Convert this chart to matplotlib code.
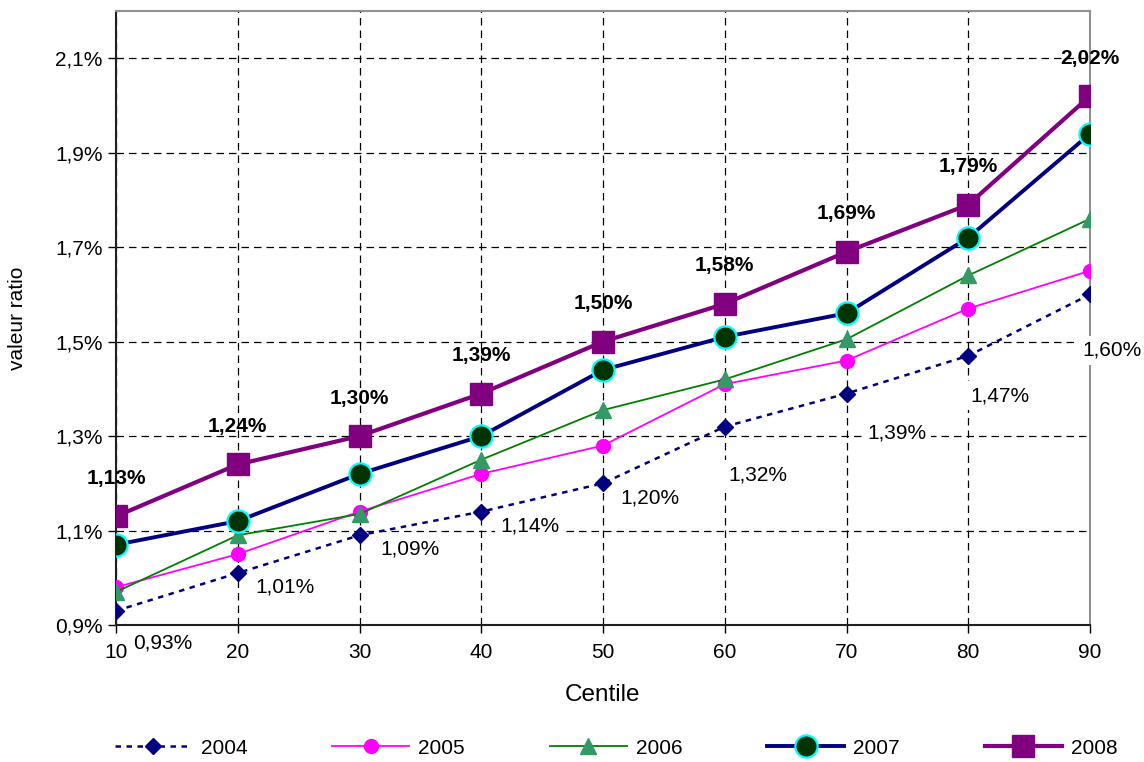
import matplotlib
matplotlib.use("Agg")
import matplotlib.pyplot as plt
from matplotlib.ticker import FuncFormatter

plt.rcParams['font.family'] = ['Liberation Sans', 'DejaVu Sans']

centiles = [10, 20, 30, 40, 50, 60, 70, 80, 90]
v2004 = [0.93, 1.01, 1.09, 1.14, 1.20, 1.32, 1.39, 1.47, 1.60]
v2005 = [0.98, 1.05, 1.14, 1.22, 1.28, 1.41, 1.46, 1.57, 1.65]
v2006 = [0.97, 1.09, 1.135, 1.25, 1.355, 1.42, 1.505, 1.64, 1.76]
v2007 = [1.07, 1.12, 1.22, 1.30, 1.44, 1.51, 1.56, 1.72, 1.94]
v2008 = [1.13, 1.24, 1.30, 1.39, 1.50, 1.58, 1.69, 1.79, 2.02]
years = ['2004', '2005', '2006', '2007', '2008']
yticks = [0.9, 1.1, 1.3, 1.5, 1.7, 1.9, 2.1]

def pct(v):
    return f"{v:.2f}%".replace('.', ',')

fig = plt.figure(figsize=(11.44, 7.62), dpi=100)
ax = fig.add_axes([116/1144, 1-625/762, (1090-116)/1144, (625-11)/762])

FS = 15
navy = '#000080'
ax.plot(centiles, v2004, color=navy, lw=1.8, ls=(0, (2.2, 2.2)),
        marker='D', ms=8, mfc=navy, mec=navy, label=years[0], zorder=6)
ax.plot(centiles, v2005, color='#FF00FF', lw=1.3, marker='o', ms=10,
        mfc='#FF00FF', mec='#FF00FF', label=years[1], zorder=6)
ax.plot(centiles, v2006, color='#008000', lw=1.3, marker='^', ms=11,
        mfc='#339966', mec='#339966', label=years[2], zorder=6)
ax.plot(centiles, v2007, color=navy, lw=2.8, marker='o', ms=16,
        mfc='#003300', mec='#00FFFF', mew=1.6, label=years[3], zorder=7)
ax.plot(centiles, v2008, color='#800080', lw=3.0, marker='s', ms=16,
        mfc='#800080', mec='#800080', label=years[4], zorder=8)

# bold labels above 2008
for x, y in zip(centiles, v2008):
    ax.annotate(pct(y), (x, y), xytext=(0, 38), textcoords='offset pixels',
                ha='center', va='center', fontsize=FS, fontweight='bold', zorder=9)

# labels for 2004 (offsets in pixels)
offs2004 = [(47, -32), (47, -14), (50, -14), (49, -14), (47, -15),
            (33, -48), (50, -39), (32, -40), (22, -56)]
for (x, y), (dx, dy) in zip(zip(centiles, v2004), offs2004):
    ax.annotate(pct(y), (x, y), xytext=(dx, dy), textcoords='offset pixels',
                ha='center', va='center', fontsize=FS, zorder=5,
                bbox=dict(boxstyle='square,pad=0.25', fc='white', ec='none'))

ax.set_xlim(10, 90)
ax.set_ylim(0.9, 2.2)
ax.set_xticks(centiles)
ax.set_yticks(yticks)
ax.yaxis.set_major_formatter(FuncFormatter(lambda v, p: f"{v:.1f}%".replace('.', ',')))
ax.tick_params(axis='both', labelsize=FS, direction='out', length=6, width=1, color='black')
ax.tick_params(axis='x', pad=7)
ax.grid(True, color='black', ls=(0, (6, 4)), lw=0.9)
ax.set_axisbelow(True)

for s in ['top', 'right']:
    ax.spines[s].set_color('#909090')
    ax.spines[s].set_linewidth(1.5)
for s in ['left', 'bottom']:
    ax.spines[s].set_color('#202020')
    ax.spines[s].set_linewidth(1.5)

ax.set_xlabel('Centile', fontsize=17.5, labelpad=16)
ax.set_ylabel('valeur ratio', fontsize=FS, labelpad=20)

fig.legend(loc='center', bbox_to_anchor=(616/1144, 1-748/762), ncol=5,
           frameon=False, fontsize=FS, numpoints=1, handlelength=3.7,
           handletextpad=0.43, columnspacing=4.07)

fig.savefig('out.png', dpi=100)
